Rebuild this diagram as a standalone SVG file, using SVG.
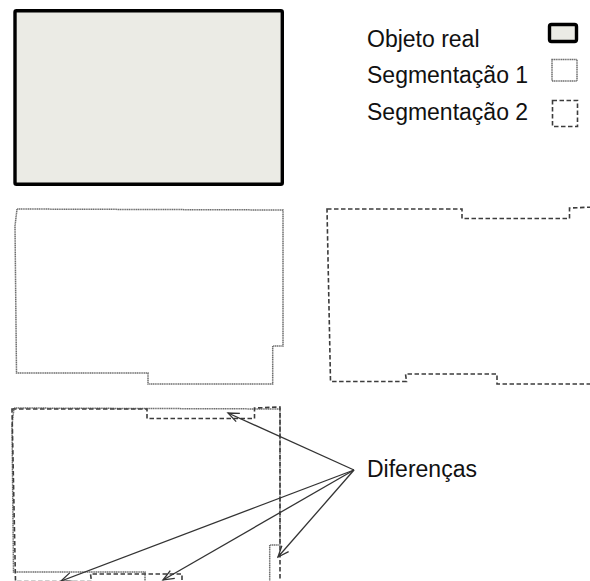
<svg xmlns="http://www.w3.org/2000/svg" xmlns:xlink="http://www.w3.org/1999/xlink" width="590" height="581" viewBox="0 0 590 581">
  <style>
    .label { font-family: "Liberation Sans", Arial, sans-serif; font-size: 23px; fill: #111; }
    .real { fill: #ebebe5; stroke: #000; stroke-width: 3.4; stroke-linejoin: round; }
    .seg1 { fill: none; stroke: #6f6f6f; stroke-width: 1.5; stroke-dasharray: 1.3 0.5; }
    .seg2 { fill: none; stroke: #3c3c3c; stroke-width: 1.6; stroke-dasharray: 4.5 2.5; }
    .arrow { fill: none; stroke: #333; stroke-width: 1.3; marker-end: url(#open-head); }
  </style>
  <defs>
    <marker id="open-head" viewBox="-12 -6 14 12" refX="0" refY="0" markerWidth="14" markerHeight="12" markerUnits="userSpaceOnUse" orient="auto">
      <path d="M-11,-4.5 L0,0 L-11,4.5" fill="none" stroke="#333" stroke-width="1.3"/>
    </marker>
    <!-- outline of segmentation 1 -->
    <path id="seg1-shape" d="M17,209 L15,226 L16.5,373 L148,373 L148,384 L272.7,384 L272.7,346 L283,346 L283,210 Z"/>
    <!-- outline of segmentation 2 (right edge runs past the canvas) -->
    <path id="seg2-shape" d="M327,209 L462,209 L462,218.5 L569.5,218.5 L569.5,208 L595,207 L595,384 L497,384 L497,374 L405.5,374 L406.5,381.5 L330.5,381.5 Z"/>
  </defs>

  <g id="real-object">
    <rect class="real" x="15" y="10.7" width="267.3" height="173.6" rx="1.5"/>
  </g>

  <g id="legend">
    <text class="label" x="367" y="47">Objeto real</text>
    <rect class="real" x="549.5" y="24.5" width="27" height="17" rx="2" stroke-width="3"/>
    <text class="label" x="367" y="83">Segmentação 1</text>
    <rect class="seg1" x="552" y="59.5" width="25" height="21.5" stroke-width="1"/>
    <text class="label" x="367" y="120">Segmentação 2</text>
    <rect class="seg2" x="552.5" y="100.5" width="25" height="26" stroke-width="1.2" stroke-dasharray="3.5 2.5"/>
  </g>

  <g id="segmentation-1">
    <use xlink:href="#seg1-shape" class="seg1"/>
  </g>

  <g id="segmentation-2">
    <use xlink:href="#seg2-shape" class="seg2"/>
  </g>

  <g id="overlay">
    <use xlink:href="#seg1-shape" class="seg1" transform="translate(-3,199)"/>
    <use xlink:href="#seg2-shape" class="seg2" transform="translate(-315,200)"/>
  </g>

  <g id="differences">
    <text class="label" x="367" y="477">Diferenças</text>
  </g>

  <g id="connectors">
    <line class="arrow" x1="354" y1="470" x2="228" y2="413"/>
    <line class="arrow" x1="354" y1="470" x2="61" y2="581"/>
    <line class="arrow" x1="354" y1="470" x2="163" y2="580"/>
    <line class="arrow" x1="354" y1="470" x2="278" y2="557"/>
  </g>
</svg>
